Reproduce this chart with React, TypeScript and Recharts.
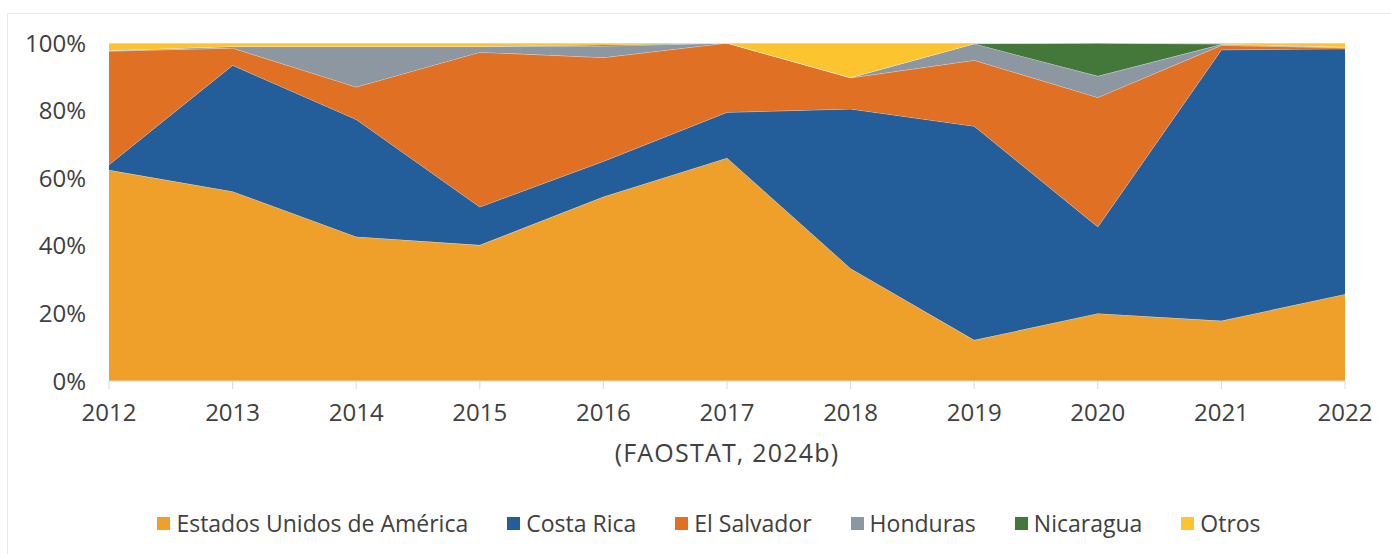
import { AreaChart, Area, XAxis, YAxis, Legend, Label } from "recharts";

const years = ["2012", "2013", "2014", "2015", "2016", "2017", "2018", "2019", "2020", "2021", "2022"];
const estadosUnidos = [62.4, 56.1, 42.7, 40.2, 54.5, 66.0, 33.3, 12.1, 20.0, 17.8, 25.7];
const costaRica = [1.6, 37.3, 34.7, 11.3, 10.5, 13.5, 47.2, 63.3, 25.6, 80.2, 72.6];
const elSalvador = [33.6, 5.1, 9.6, 45.8, 30.7, 20.5, 9.2, 19.5, 38.3, 1.3, 0.3];
const honduras = [0.2, 0.5, 12.0, 1.7, 3.4, 0, 0.1, 4.9, 6.3, 0.3, 0.2];
const nicaragua = [0, 0, 0, 0, 0.3, 0, 0, 0, 9.8, 0.1, 0];
const otros = [2.2, 1.0, 1.0, 1.0, 0.6, 0, 10.2, 0.2, 0, 0.3, 1.2];
const yTicks = [0, 0.2, 0.4, 0.6, 0.8, 1];

const series = [
  { key: "us", name: "Estados Unidos de América", color: "#EFA02B" },
  { key: "cr", name: "Costa Rica", color: "#245E9A" },
  { key: "sv", name: "El Salvador", color: "#E07124" },
  { key: "hn", name: "Honduras", color: "#8D97A2" },
  { key: "ni", name: "Nicaragua", color: "#44773A" },
  { key: "ot", name: "Otros", color: "#FCC530" },
];

const data = years.map((year, i) => ({
  year,
  us: estadosUnidos[i],
  cr: costaRica[i],
  sv: elSalvador[i],
  hn: honduras[i],
  ni: nicaragua[i],
  ot: otros[i],
}));

const FONT = "'Open Sans', 'Noto Sans', sans-serif";
const TEXT = "#404040";

const LegendContent = () => (
  <div
    style={{
      height: 40,
      display: "flex",
      alignItems: "center",
      justifyContent: "center",
      paddingLeft: 44,
      fontFamily: FONT,
      fontSize: 23,
      color: TEXT,
      whiteSpace: "nowrap",
    }}
  >
    {series.map((s) => (
      <span key={s.key} style={{ display: "flex", alignItems: "center", margin: "0 19.5px" }}>
        <span style={{ width: 13, height: 13, background: s.color, marginRight: 6 }} />
        <span style={{ lineHeight: 1 }}>{s.name}</span>
      </span>
    ))}
  </div>
);

export default function App() {
  return (
    <div style={{ position: "absolute", left: 0, top: 0, width: 1391, height: 554 }}>
      <div
        style={{
          position: "absolute",
          left: 7,
          top: 13,
          right: 0,
          bottom: 0,
          borderTop: "1px solid #e9e9e9",
          borderLeft: "1px solid #e9e9e9",
        }}
      />
      <AreaChart
        width={1391}
        height={554}
        data={data}
        stackOffset="expand"
        margin={{ top: 43, right: 46, left: 29, bottom: 11 }}
        style={{ position: "absolute", left: 0, top: 0 }}
      >
        <XAxis
          dataKey="year"
          height={122}
          tick={{ fill: TEXT, fontSize: 24, fontFamily: FONT }}
          tickSize={8}
          tickMargin={15}
          axisLine={{ stroke: "#d9d9d9" }}
          tickLine={{ stroke: "#d9d9d9" }}
        >
          <Label
            value="(FAOSTAT, 2024b)"
            position="insideTop"
            offset={63}
            fill={TEXT}
            fontSize={25}
            letterSpacing={1.2}
            fontFamily={FONT}
          />
        </XAxis>
        <YAxis
          width={80}
          domain={[0, 1]}
          ticks={yTicks}
          tickFormatter={(v: number) => `${Math.round(v * 100)}%`}
          tick={{ fill: TEXT, fontSize: 24, fontFamily: FONT }}
          tickSize={0}
          tickMargin={23}
          axisLine={false}
          tickLine={false}
        />
        {series.map((s) => (
          <Area
            key={s.key}
            type="linear"
            dataKey={s.key}
            name={s.name}
            stackId="1"
            stroke="#ffffff"
            strokeOpacity={0.55}
            strokeWidth={1}
            fill={s.color}
            fillOpacity={1}
            isAnimationActive={false}
          />
        ))}
        <Legend verticalAlign="bottom" align="left" content={<LegendContent />} />
      </AreaChart>
    </div>
  );
}
